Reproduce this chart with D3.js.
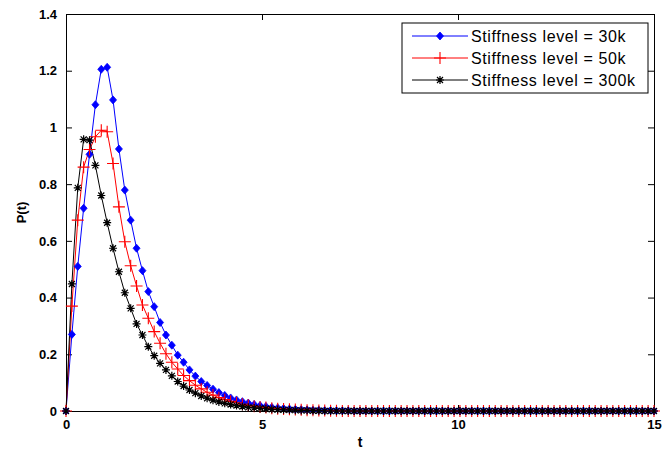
<!DOCTYPE html>
<html>
<head>
<meta charset="utf-8">
<script src="https://d3js.org/d3.v7.min.js"></script>
<style>
  body { margin: 0; background: #fff; }
  .tick text { font-family: "Liberation Sans", Arial, sans-serif; font-size: 13px; font-weight: bold; }
  .legend text { font-family: "Liberation Sans", Arial, sans-serif; font-size: 16px; letter-spacing: 0.6px; }
</style>
</head>
<body>
<div id="chart"></div>
<script>
// time grid step and the three response curves
const tStep = 0.15;
const seriesNames = ["Stiffness level = 30k", "Stiffness level = 50k", "Stiffness level = 300k"];
const seriesColors = ["#0000ff", "#ff0000", "#000000"];

const p30k = [0, 0.27, 0.51, 0.715, 0.905, 1.08, 1.205, 1.212, 1.097, 0.924,
  0.779, 0.673, 0.574, 0.495, 0.421, 0.368, 0.312, 0.268, 0.232, 0.197,
  0.172, 0.145, 0.123, 0.104, 0.09, 0.077, 0.065, 0.055, 0.046, 0.039,
  0.033, 0.028, 0.023, 0.019, 0.016, 0.013, 0.011, 0.009, 0.007, 0.006,
  0.005, 0.004, 0.003, 0.003, 0.002, 0.002, 0.001, 0.001, 0.001, 0,
  0, 0, 0, 0, 0, 0, 0, 0, 0, 0,
  0, 0, 0, 0, 0, 0, 0, 0, 0, 0,
  0, 0, 0, 0, 0, 0, 0, 0, 0, 0,
  0, 0, 0, 0, 0, 0, 0, 0, 0, 0,
  0, 0, 0, 0, 0, 0, 0, 0, 0, 0, 0];

const p50k = [0, 0.37, 0.673, 0.86, 0.922, 0.967, 0.99, 0.985, 0.873, 0.72,
  0.597, 0.512, 0.441, 0.374, 0.327, 0.28, 0.239, 0.202, 0.172, 0.148,
  0.125, 0.107, 0.091, 0.078, 0.066, 0.056, 0.047, 0.04, 0.034, 0.029,
  0.024, 0.02, 0.017, 0.014, 0.012, 0.01, 0.008, 0.007, 0.006, 0.005,
  0.004, 0.003, 0.003, 0.002, 0.002, 0.001, 0.001, 0, 0, 0,
  0, 0, 0, 0, 0, 0, 0, 0, 0, 0,
  0, 0, 0, 0, 0, 0, 0, 0, 0, 0,
  0, 0, 0, 0, 0, 0, 0, 0, 0, 0,
  0, 0, 0, 0, 0, 0, 0, 0, 0, 0,
  0, 0, 0, 0, 0, 0, 0, 0, 0, 0, 0];

const p300k = [0, 0.448, 0.787, 0.958, 0.955, 0.866, 0.76, 0.664, 0.574, 0.491,
  0.417, 0.362, 0.307, 0.268, 0.227, 0.195, 0.168, 0.145, 0.124, 0.104,
  0.088, 0.074, 0.063, 0.053, 0.045, 0.038, 0.032, 0.027, 0.023, 0.019,
  0.016, 0.013, 0.011, 0.009, 0.008, 0.006, 0.005, 0.004, 0.004, 0.003,
  0.002, 0.002, 0.001, 0.001, 0, 0, 0, 0, 0, 0,
  0, 0, 0, 0, 0, 0, 0, 0, 0, 0,
  0, 0, 0, 0, 0, 0, 0, 0, 0, 0,
  0, 0, 0, 0, 0, 0, 0, 0, 0, 0,
  0, 0, 0, 0, 0, 0, 0, 0, 0, 0,
  0, 0, 0, 0, 0, 0, 0, 0, 0, 0, 0];

const xTicks = [0, 5, 10, 15];
const yTicks = [0, 0.2, 0.4, 0.6, 0.8, 1, 1.2, 1.4];

const allSeries = [p30k, p50k, p300k];
const markerTypes = ["diamond", "plus", "star"];

const margin = { top: 14, right: 8, bottom: 43, left: 66 },
  width = 662 - margin.left - margin.right,
  height = 454 - margin.top - margin.bottom;

const svg = d3.select("#chart").append("svg")
  .attr("width", 662).attr("height", 454)
  .append("g")
  .attr("transform", `translate(${margin.left},${margin.top})`);

const x = d3.scaleLinear().domain([0, 15]).range([0, width]);
const y = d3.scaleLinear().domain([0, 1.4]).range([height, 0]);

// axes, MATLAB style: inward ticks on all four sides
const tickLen = 6;
svg.append("g")
  .attr("transform", `translate(0,${height})`)
  .call(d3.axisBottom(x).tickValues(xTicks).tickSizeInner(-tickLen).tickSizeOuter(0).tickPadding(9).tickFormat(d3.format("d")));
svg.append("g")
  .call(d3.axisLeft(y).tickValues(yTicks).tickSizeInner(-tickLen).tickSizeOuter(0).tickPadding(9).tickFormat(d => d3.format("~g")(d)));
svg.append("g")
  .call(d3.axisTop(x).tickValues(xTicks).tickSizeInner(-tickLen).tickSizeOuter(0).tickFormat(""));
svg.append("g")
  .attr("transform", `translate(${width},0)`)
  .call(d3.axisRight(y).tickValues(yTicks).tickSizeInner(-tickLen).tickSizeOuter(0).tickFormat(""));
svg.selectAll(".domain").attr("stroke", "#000");
svg.selectAll(".tick line").attr("stroke", "#000");

// axis labels
svg.append("text")
  .attr("x", width / 2).attr("y", height + 36)
  .attr("text-anchor", "middle")
  .style("font-family", "Liberation Sans, Arial, sans-serif")
  .style("font-size", "14px").style("font-weight", "bold")
  .text("t");
svg.append("text")
  .attr("transform", "rotate(-90)")
  .attr("x", -height / 2).attr("y", -40)
  .attr("text-anchor", "middle")
  .style("font-family", "Liberation Sans, Arial, sans-serif")
  .style("font-size", "13px").style("font-weight", "bold")
  .text("P(t)");

function drawMarker(sel, type, color) {
  if (type === "diamond") {
    sel.append("path").attr("d", "M0,-4L3.5,0L0,4L-3.5,0Z").attr("fill", color).attr("stroke", color).attr("stroke-width", 0.8);
  } else if (type === "plus") {
    sel.append("path").attr("d", "M-6,0H6M0,-6V6").attr("stroke", color).attr("stroke-width", 1.1).attr("fill", "none");
  } else {
    sel.append("path").attr("d", "M-4,0H4M0,-4V4M-3,-3L3,3M-3,3L3,-3").attr("stroke", color).attr("stroke-width", 1.2).attr("fill", "none");
  }
}

const line = d3.line()
  .x((d, i) => x(i * tStep))
  .y(d => y(d));

allSeries.forEach((vals, k) => {
  svg.append("path")
    .datum(vals)
    .attr("fill", "none")
    .attr("stroke", seriesColors[k])
    .attr("stroke-width", 1)
    .attr("d", line);
});

// markers drawn after lines, in plot order
allSeries.forEach((vals, k) => {
  svg.append("g").selectAll("g")
    .data(vals)
    .join("g")
    .attr("transform", (d, i) => `translate(${x(i * tStep)},${y(d)})`)
    .each(function () { drawMarker(d3.select(this), markerTypes[k], seriesColors[k]); });
});

// legend
const legend = svg.append("g").attr("class", "legend")
  .attr("transform", `translate(${336},${9})`);
legend.append("rect")
  .attr("width", 246).attr("height", 70)
  .attr("fill", "#fff").attr("stroke", "#000").attr("stroke-width", 1);
seriesNames.forEach((name, k) => {
  const row = legend.append("g").attr("transform", `translate(0,${13 + k * 22})`);
  row.append("line").attr("x1", 10).attr("x2", 66).attr("y1", 0).attr("y2", 0)
    .attr("stroke", seriesColors[k]).attr("stroke-width", 1);
  const m = row.append("g").attr("transform", "translate(38,0)");
  drawMarker(m, markerTypes[k], seriesColors[k]);
  row.append("text").attr("x", 69).attr("y", 6).text(name);
});
</script>
</body>
</html>
